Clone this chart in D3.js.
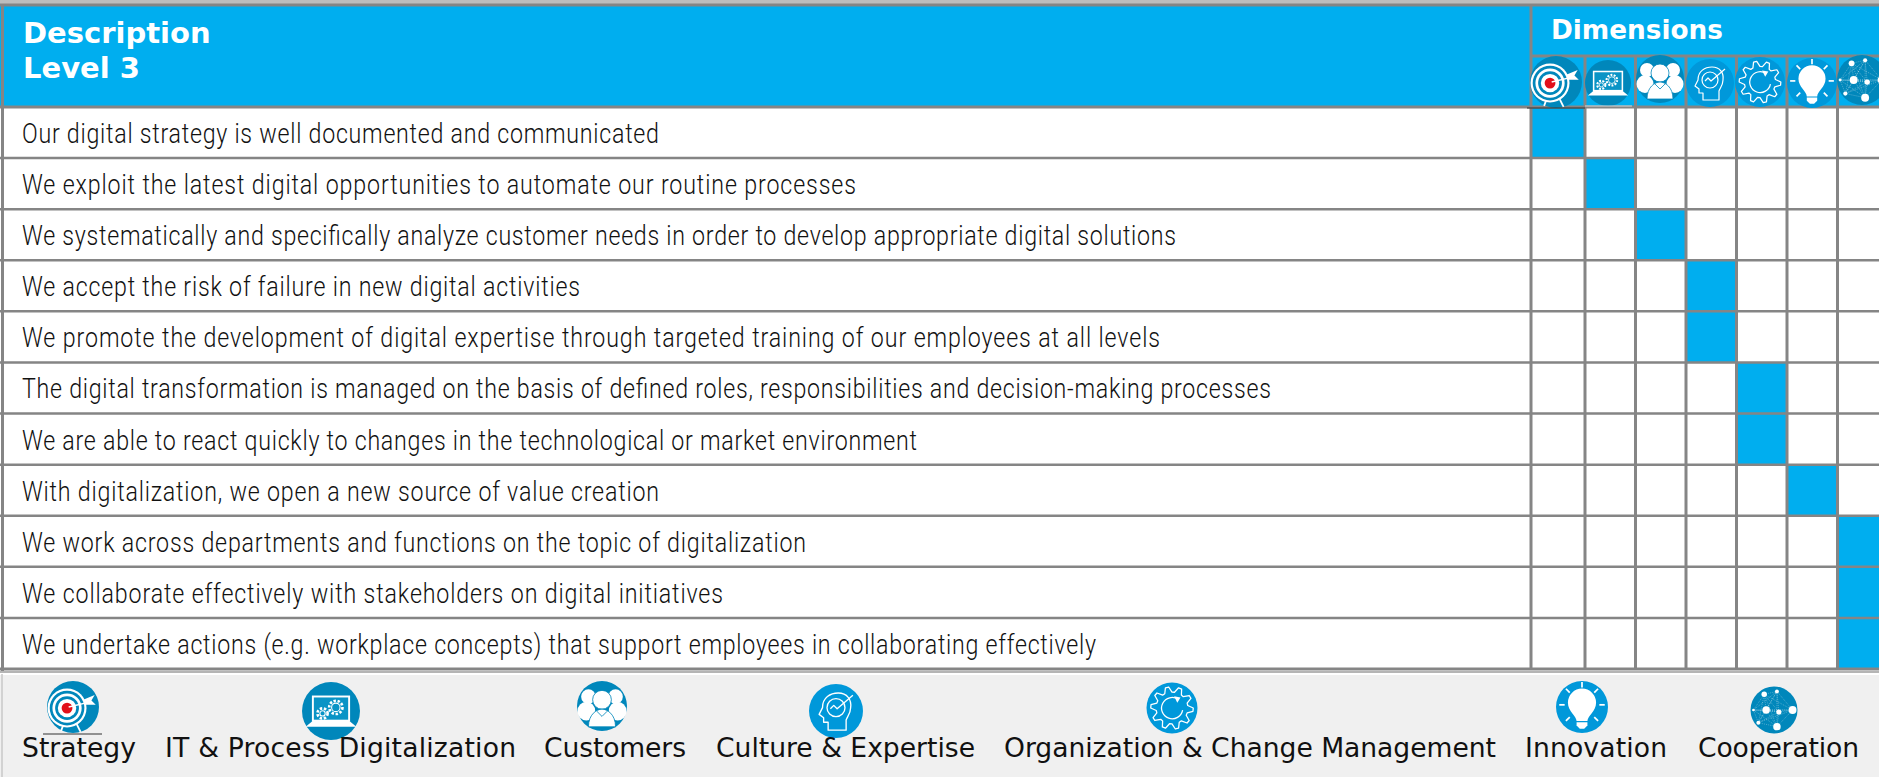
<!DOCTYPE html>
<html>
<head>
<meta charset="utf-8">
<script src="https://cdn.jsdelivr.net/npm/d3@7"></script>
<style>
  html, body { margin: 0; padding: 0; background: #fff; overflow: hidden; }
  svg { display: block; }
</style>
</head>
<body>
<div id="chart"></div>
<script>
// statements of level 3, top to bottom
const statements = [
  "Our digital strategy is well documented and communicated",
  "We exploit the latest digital opportunities to automate our routine processes",
  "We systematically and specifically analyze customer needs in order to develop appropriate digital solutions",
  "We accept the risk of failure in new digital activities",
  "We promote the development of digital expertise through targeted training of our employees at all levels",
  "The digital transformation is managed on the basis of defined roles, responsibilities and decision-making processes",
  "We are able to react quickly to changes in the technological or market environment",
  "With digitalization, we open a new source of value creation",
  "We work across departments and functions on the topic of digitalization",
  "We collaborate effectively with stakeholders on digital initiatives",
  "We undertake actions (e.g. workplace concepts) that support employees in collaborating effectively"
]
const dimensions = ["Strategy", "IT & Process Digitalization", "Customers", "Culture & Expertise",
  "Organization & Change Management", "Innovation", "Cooperation"]
// which dimension each statement belongs to (index into dimensions)
const statementDimension = [0, 1, 2, 3, 3, 4, 4, 5, 6, 6, 6]
const titleLines = ["Description", "Level 3"]
const dimensionsTitle = "Dimensions"

const width = 1879, height = 777
const blue = "#00aeef", grid = "#858585", dark = "#0087bb", mid = "#0098da"
const iconFill = [dark, dark, dark, mid, mid, mid, dark]

const svg = d3.select("#chart").append("svg").attr("width", width).attr("height", height)

const y = d3.scaleBand().domain(d3.range(statements.length)).range([107, 669])
// first dimension column is a bit wider than the others
const x = d3.scaleLinear().domain([0, 1, 7]).range([1531, 1585, 1888])

// backgrounds
svg.append("rect").attr("x", 0).attr("y", 0).attr("width", width).attr("height", 107).attr("fill", blue)
svg.append("rect").attr("x", 0).attr("y", 0).attr("width", width).attr("height", 4).attr("fill", "#bdbdbd")
svg.append("rect").attr("x", 0).attr("y", 675).attr("width", width).attr("height", 102).attr("fill", "#f0f0f0")

// highlighted cells
svg.append("g").selectAll("rect").data(statementDimension).join("rect")
  .attr("x", d => x(d))
  .attr("y", (d, i) => y(i))
  .attr("width", d => x(d + 1) - x(d))
  .attr("height", y.bandwidth())
  .attr("fill", blue)

// grid lines
const line = (x1, y1, x2, y2, sw, col) => svg.append("line")
  .attr("x1", x1).attr("y1", y1).attr("x2", x2).attr("y2", y2)
  .attr("stroke", col || grid).attr("stroke-width", sw)

line(0, 5, width, 5, 3)
y.domain().forEach(i => line(0, y(i), width, y(i), i === 0 ? 3 : 2.5))
line(0, 669, width, 669, 3)
line(0, 672, width, 672, 2, "#b5b5b5")
line(2.5, 4, 2.5, 671, 3)
line(2, 674, 2, 777, 1.5, "#c8c8c8")
line(x(0), 4, x(0), 670, 3)
line(x(0), 56, width, 56, 3)
d3.range(1, 7).forEach(i => line(x(i), 56, x(i), 670, 3))

// header text
svg.append("g").selectAll("text").data(titleLines).join("text")
  .attr("x", 23)
  .attr("y", (d, i) => 43 + i * 35)
  .attr("font-family", "DejaVu Sans")
  .attr("font-weight", "bold")
  .attr("font-size", 29)
  .attr("fill", "#fff")
  .text(d => d)
svg.append("text")
  .attr("x", 1551).attr("y", 39)
  .attr("font-family", "DejaVu Sans")
  .attr("font-weight", "bold")
  .attr("font-size", 26.3)
  .attr("fill", "#fff")
  .text(dimensionsTitle)

// statement rows, squeezed since no condensed font is around.
// rowEnd is where each line stops in the picture
const rowStart = 22, rowSqueeze = 0.86
const rowEnd = [659, 856, 1176, 580, 1160, 1271, 917, 659, 806, 723, 1096]
svg.append("g").selectAll("text").data(statements).join("text")
  .attr("transform", (d, i) => `translate(${rowStart}, ${y(i) + 36}) scale(${rowSqueeze}, 1)`)
  .attr("font-family", "Roboto")
  .attr("font-weight", 300)
  .attr("font-size", 27)
  .attr("textLength", (d, i) => (rowEnd[i] - rowStart) / rowSqueeze)
  .attr("lengthAdjust", "spacing")
  .attr("fill", "#111")
  .text(d => d)

// ---- icons, drawn around (0,0) on a circle of radius 24
const ic = (g, tag, attrs) => {
  const el = g.append(tag)
  Object.entries(attrs).forEach(([k, v]) => el.attr(k, v))
  return el
}
const outline = { fill: "none", stroke: "#fff", "stroke-width": 1.2, "stroke-linejoin": "round" }

const iconDraw = [
  // target
  g => {
    ic(g, "line", { x1: -11, y1: 22, x2: -8, y2: 14, stroke: "#fff", "stroke-width": 1.6 })
    ic(g, "line", { x1: 3, y1: 15, x2: 7, y2: 23, stroke: "#fff", "stroke-width": 1.6 })
    ;[18, 16, 13.5, 11, 8.5].forEach((r, i) => ic(g, "circle", { cx: -5.5, cy: 1, r, fill: i % 2 ? dark : "#fff" }))
    ic(g, "circle", { cx: -5.5, cy: 1, r: 5, fill: "#e2101a" })
    ic(g, "line", { x1: -4, y1: 0, x2: 17, y2: -5, stroke: "#fff", "stroke-width": 1.3 })
    ic(g, "path", { d: "M10,-7L20,-11L17,-6L21,-2L11,-2Z", fill: "#fff" })
  },
  // laptop with gears
  g => {
    ic(g, "rect", { x: -15, y: -12, width: 30, height: 20, fill: "#0a94c6", stroke: "#fff", "stroke-width": 1.6 })
    ic(g, "path", { d: "M-15,8H15L21,13H-21Z", fill: "#fff" })
    ;[[4, -3, 5.5], [-7, 2, 4.2]].forEach(([cx, cy, r]) => {
      ic(g, "circle", { cx, cy, r, fill: "none", stroke: "#fff", "stroke-width": 2.2, "stroke-dasharray": "2 1.4" })
      ic(g, "circle", { cx, cy, r: r - 2, fill: "none", stroke: "#fff", "stroke-width": 0.9 })
    })
  },
  // group of people
  g => {
    ;[[-13, -9, 7], [13, -9, 7]].forEach(([cx, cy, r]) => ic(g, "circle", { cx, cy, r, fill: "#fff" }))
    ic(g, "ellipse", { cx: -15, cy: 5, rx: 8.5, ry: 9, fill: "#fff" })
    ic(g, "ellipse", { cx: 15, cy: 5, rx: 8.5, ry: 9, fill: "#fff" })
    ic(g, "circle", { cx: 0, cy: -6, r: 9, fill: "#fff", stroke: dark, "stroke-width": 0.8 })
    ic(g, "path", { d: "M-13,20C-13,8 -5,3 0,3C5,3 13,8 13,20Z", fill: "#fff", stroke: dark, "stroke-width": 0.8 })
    ic(g, "path", { d: "M-5,5L0,10L5,5", fill: "none", stroke: dark, "stroke-width": 0.8 })
  },
  // head with chart
  g => {
    ic(g, "path", Object.assign({ d: "M-7,17V10H-11V6L-15,3L-12,-3C-12,-12 -5,-16 2,-16C10,-16 14,-10 13,-3C13,2 10,5 9,8V17Z" }, outline))
    ic(g, "circle", Object.assign({ cx: 0, cy: -3, r: 8 }, outline))
    ic(g, "path", Object.assign({ d: "M-5,-2L-2,-5L1,-2L15,-14" }, outline))
  },
  // gear with arrow
  g => {
    const teeth = d3.range(40).map(i => {
      const a = i * Math.PI / 20, r = i % 4 < 2 ? 20 : 15
      return [r * Math.cos(a), r * Math.sin(a)]
    })
    ic(g, "path", Object.assign({ d: d3.line().curve(d3.curveLinearClosed)(teeth) }, outline))
    ic(g, "path", Object.assign({ d: "M6,-8A10,10 0 1,0 10,2" }, outline))
    ic(g, "path", { d: "M2,-11L8,-10L5,-5Z", fill: "#fff" })
  },
  // light bulb
  g => {
    ic(g, "path", { d: "M-5,13C-5,8 -13,4 -13,-4A13,13 0 0,1 13,-4C13,4 5,8 5,13Z", fill: "#fff" })
    ic(g, "path", { d: "M-5,14H5V17L2,20H-2L-5,17Z", fill: "#fff" })
    ;[180, 225, 270, 315, 0, 135, 45].forEach(deg => {
      const a = deg * Math.PI / 180
      ic(g, "line", { x1: 16 * Math.cos(a), y1: -2 + 16 * Math.sin(a), x2: 21 * Math.cos(a), y2: -2 + 21 * Math.sin(a), stroke: "#fff", "stroke-width": 1.6 })
    })
  },
  // network
  g => {
    const nodes = [[-10, -16, 2.8], [3, -19, 2], [-8, 0, 3.8], [5, 2, 2.6], [19, 0, 4], [-21, 0, 1.4], [-16, 13, 2], [3, 17, 3.8]]
    nodes.forEach((a, i) => nodes.slice(i + 1).forEach(b => {
      ic(g, "line", { x1: a[0], y1: a[1], x2: b[0], y2: b[1], stroke: "#fff", "stroke-width": 0.5, "stroke-dasharray": "1 1", opacity: 0.6 })
    }))
    nodes.forEach(n => ic(g, "circle", { cx: n[0], cy: n[1], r: n[2], fill: "#fff" }))
  }
]

const drawIcon = (cx, cy, r, i) => {
  const g = svg.append("g").attr("transform", `translate(${cx}, ${cy}) scale(${r / 24})`)
  ic(g, "circle", { cx: 0, cy: 0, r: 24, fill: iconFill[i] })
  iconDraw[i](g)
}

// header icons
const headCx = [1556, 1608, 1660, 1710, 1760, 1812, 1862]
const headCy = [82, 83, 79, 83, 82, 83, 80]
const headR = [26, 23, 24, 24, 25, 25, 25]
dimensions.forEach((d, i) => drawIcon(headCx[i], headCy[i], headR[i], i))
line(1527, 108, 1585, 108, 1.2, "#333")
line(1585, 106, 1632, 106, 1, "#d8d8d8")

// legend icons
const legCx = [73, 331, 602, 836, 1172, 1582, 1774]
const legCy = [707, 711, 706, 711, 708, 707, 710]
const legR = [26, 29, 25, 27, 25.5, 26, 23.5]
dimensions.forEach((d, i) => drawIcon(legCx[i], legCy[i], legR[i], i))
line(43, 734, 102, 734, 1, "#333")

// legend labels
const legStart = [22, 165, 544, 716, 1004, 1525, 1698]
const legEnd = [136, 516, 686, 975, 1496, 1667, 1859]
svg.append("g").selectAll("text").data(dimensions).join("text")
  .attr("x", (d, i) => legStart[i])
  .attr("y", 757)
  .attr("font-family", "DejaVu Sans")
  .attr("font-size", 26.6)
  .attr("textLength", (d, i) => legEnd[i] - legStart[i])
  .attr("lengthAdjust", "spacing")
  .attr("fill", "#111")
  .text(d => d)
</script>
</body>
</html>
